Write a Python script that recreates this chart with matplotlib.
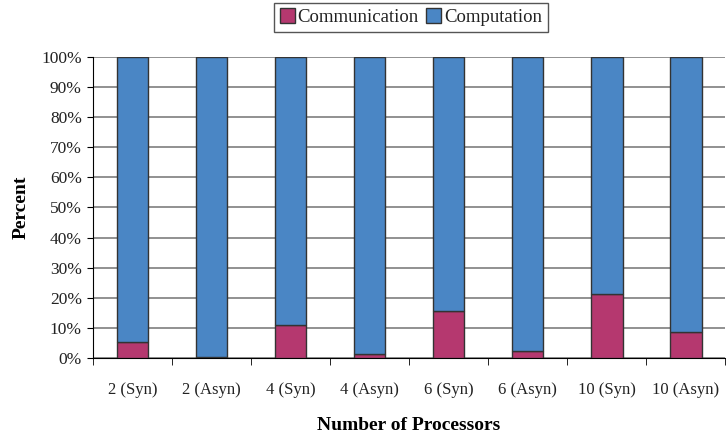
import numpy as np
import matplotlib.pyplot as plt
from matplotlib.ticker import FixedLocator, PercentFormatter

plt.rcParams['font.family'] = ['Liberation Serif', 'DejaVu Serif']
plt.rcParams['text.color'] = '#222222'
plt.rcParams['xtick.labelcolor'] = '#222222'
plt.rcParams['ytick.labelcolor'] = '#222222'

# Доля времени на обмен и на вычисления, %
labels = ['2 (Syn)', '2 (Asyn)', '4 (Syn)', '4 (Asyn)',
          '6 (Syn)', '6 (Asyn)', '10 (Syn)', '10 (Asyn)']
communication = [5.2, 0.3, 10.9, 1.2, 15.7, 2.4, 21.2, 8.6]
computation = [100 - c for c in communication]

fig = plt.figure(figsize=(7.26, 4.41), dpi=100)
ax = fig.add_axes([0.128, 0.188, 0.871, 0.683])

x = np.arange(len(labels))
ax.bar(x, communication, 0.4, color='#B5386F', edgecolor='#333333',
       linewidth=1, label='Communication', zorder=3)
ax.bar(x, computation, 0.4, bottom=communication, color='#4A86C5',
       edgecolor='#333333', linewidth=1, label='Computation', zorder=3)

ax.set_xlim(-0.5, len(labels) - 0.5)
ax.set_ylim(0, 100)
ax.set_yticks(np.arange(0, 101, 10))
ax.yaxis.set_major_formatter(PercentFormatter(decimals=0))
ax.yaxis.grid(True, color='#888888', linewidth=1.3, zorder=0)

# подписи по центру столбцов, засечки между ними
ax.set_xticks(x)
ax.set_xticklabels(labels)
ax.xaxis.set_minor_locator(FixedLocator(np.arange(-0.5, len(labels), 1)))
ax.tick_params(axis='x', which='major', length=0, pad=17, labelsize=12)
ax.tick_params(axis='x', which='minor', length=5, color='black')
ax.tick_params(axis='y', length=4, labelsize=12.5, pad=4)

for side in ['top', 'right']:
    ax.spines[side].set_visible(False)
ax.spines['left'].set_color('black')
ax.spines['bottom'].set_color('black')

ax.set_ylabel('Percent', fontsize=14, fontweight='bold', labelpad=8)
ax.set_xlabel('Number of Processors', fontsize=14, fontweight='bold', labelpad=14)

fig.legend(loc='center', bbox_to_anchor=(0.566, 0.961), ncol=2, fontsize=13.5,
           frameon=True, fancybox=False, edgecolor='#555555', handlelength=0.8,
           handleheight=0.8, handletextpad=0.15, columnspacing=0.4,
           borderpad=0.3, borderaxespad=0, framealpha=1)

fig.savefig('out.png', dpi=100)
